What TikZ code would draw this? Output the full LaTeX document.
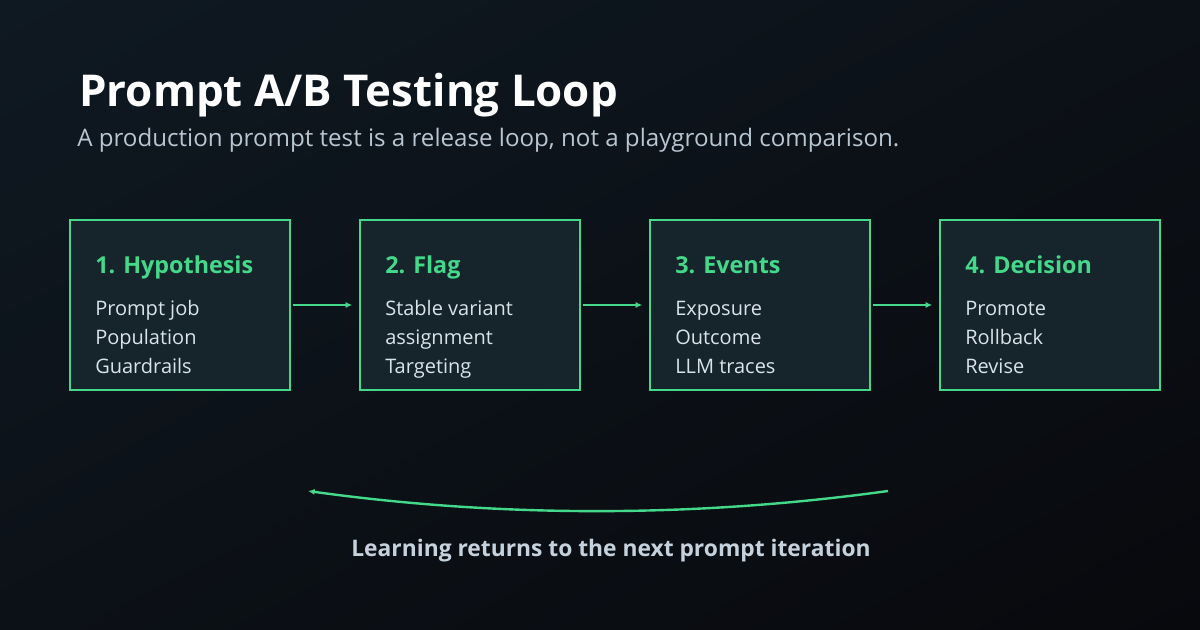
\documentclass[tikz,border=0pt]{standalone}
\usepackage{fontspec}
\setmainfont{Open Sans}
\usetikzlibrary{arrows.meta,shadings}
\definecolor{bgA}{HTML}{0F1922}
\definecolor{bgB}{HTML}{0C1117}
\definecolor{bgC}{HTML}{08090D}
\definecolor{boxfill}{HTML}{16242B}
\definecolor{accent}{HTML}{44D98A}
\definecolor{bodytext}{HTML}{D9E3EA}
\definecolor{subtext}{HTML}{B8C6D2}
\definecolor{foottext}{HTML}{C5D2DE}
\tikzset{
  stepbox/.style={draw=accent, line width=1.5pt, fill=boxfill, minimum width=165pt, minimum height=127.5pt, inner sep=0pt},
  headtxt/.style={anchor=base west, text=accent, font=\fontsize{17.5pt}{20pt}\selectfont\bfseries, inner sep=0pt},
  bodytxt/.style={anchor=base west, text=bodytext, font=\fontsize{15pt}{21.75pt}\selectfont, align=left, inner sep=0pt},
  flow/.style={draw=accent, line width=1.6pt, -{Latex[length=5pt,width=4.5pt]}},
}
\begin{document}
\begin{tikzpicture}[x=0.75pt,y=-0.75pt]
\useasboundingbox (0,0) rectangle (1200,630);
\shade[upper left=bgA, upper right=bgB, lower left=bgB, lower right=bgC] (0,0) rectangle (1200,630);
\node[anchor=base west, inner sep=0pt, text=white, font=\fontsize{32.9pt}{38pt}\selectfont\bfseries] (title) at (79,107) {Prompt A/B Testing Loop};
\node[anchor=base west, inner sep=0pt, text=subtext, font=\fontsize{18.1pt}{22pt}\selectfont] (sub) at (77,147) {A production prompt test is a release loop, not a playground comparison.};
% boxes
\node[stepbox] (b1) at (180,305) {};
\node[stepbox] (b2) at (470,305) {};
\node[stepbox] (b3) at (760,305) {};
\node[stepbox] (b4) at (1050,305) {};
\node[headtxt] (h1) at (95,274) {1. Hypothesis};
\node[headtxt] (h2) at (385,274) {2. Flag};
\node[headtxt] (h3) at (675,274) {3. Events};
\node[headtxt] (h4) at (965,274) {4. Decision};
\node[bodytxt] (t1) at (95,374) {Prompt job\\Population\\Guardrails};
\node[bodytxt] (t2) at (385,374) {Stable variant\\assignment\\Targeting};
\node[bodytxt] (t3) at (675,374) {Exposure\\Outcome\\LLM traces};
\node[bodytxt] (t4) at (965,374) {Promote\\Rollback\\Revise};
\draw[flow] ([xshift=1.5pt]b1.east) -- ([xshift=-5pt]b2.west);
\draw[flow] ([xshift=1.5pt]b2.east) -- ([xshift=-5pt]b3.west);
\draw[flow] ([xshift=1.5pt]b3.east) -- ([xshift=-5pt]b4.west);
% loop back
\coordinate (ls) at (888,491);
\coordinate (le) at (308,491);
\draw[draw=accent, line width=1.8pt, -{Latex[length=5pt,width=4.5pt]}] (ls) .. controls (694.7,517.7) and (501.3,517.7) .. (le);
\node[anchor=base, inner sep=0pt, text=foottext, font=\fontsize{17.1pt}{20pt}\selectfont\bfseries] (foot) at (611,557) {Learning returns to the next prompt iteration};
\end{tikzpicture}
\end{document}
